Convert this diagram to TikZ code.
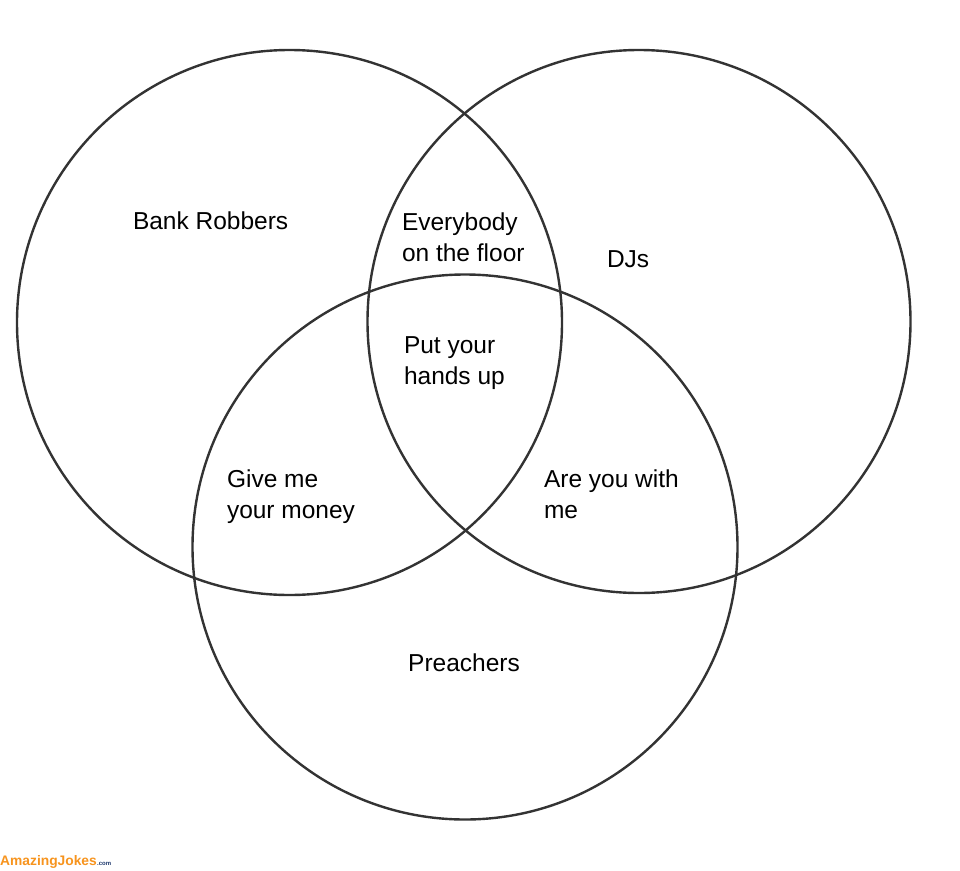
\documentclass[tikz,border=0pt]{standalone}
\usepackage{fontspec}
\setmainfont{Liberation Sans}
\definecolor{ringcol}{HTML}{333333}
\definecolor{wmorange}{HTML}{F7941E}
\definecolor{wmblue}{HTML}{1F3A6E}
\begin{document}
\begin{tikzpicture}[x=1pt,y=-1pt,
  ring/.style={draw=ringcol,line width=2.4pt},
  lbl/.style={inner sep=0pt,outer sep=0pt,align=left,text=black,
    font=\fontsize{24.5}{31}\selectfont},
]
\useasboundingbox[fill=white] (0,0) rectangle (960,870);
% circles
\node[ring,circle,minimum size=545pt,inner sep=0pt] (robbers) at (289.5,322.5) {};
\node[ring,circle,minimum size=543pt,inner sep=0pt] (djs) at (639,321.5) {};
\node[ring,circle,minimum size=545pt,inner sep=0pt] (preachers) at (465,547) {};
% labels
\node[lbl,anchor=base west] (tbr) at (133,229) {Bank Robbers};
\node[lbl,anchor=base west] (tdj) at (607,267) {DJs};
\node[lbl,anchor=north west] (tev) at (402,213) {Everybody\\on the floor};
\node[lbl,anchor=north west] (tput) at (404,337) {Put your\\hands up};
\node[lbl,anchor=north west] (tgive) at (227,469.5) {Give me\\your money};
\node[lbl,anchor=north west] (tare) at (544,469.5) {Are you with\\me};
\node[lbl,anchor=base] (tpr) at (464,671) {Preachers};
% watermark
\node[inner sep=0pt,anchor=base west,text=wmorange,
  font=\fontsize{13.8}{14}\selectfont\bfseries] (wm) at (0,865) {AmazingJokes};
\node[inner sep=0pt,anchor=base west,text=wmblue,
  font=\fontsize{6}{7}\selectfont\bfseries] (wmcom) at (wm.base east) {.com};
\end{tikzpicture}
\end{document}
